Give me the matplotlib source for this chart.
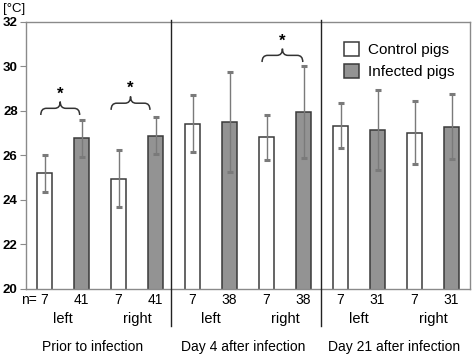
import matplotlib.pyplot as plt
from matplotlib.path import Path
from matplotlib.patches import PathPatch
from matplotlib.transforms import blended_transform_factory

plt.rcParams['font.family'] = ['Liberation Sans', 'DejaVu Sans']

# bar order: (group, side, control/infected)
means = [25.2, 26.78, 24.95, 26.88, 27.42, 27.5, 26.82, 27.96, 27.34, 27.13, 27.02, 27.29]
errs = [0.82, 0.83, 1.28, 0.83, 1.28, 2.26, 1.02, 2.06, 1.02, 1.8, 1.42, 1.46]
n_labels = ['7', '41', '7', '41', '7', '38', '7', '38', '7', '31', '7', '31']
side_labels = ['left', 'right', 'left', 'right', 'left', 'right']
group_labels = ['Prior to infection', 'Day 4 after infection', 'Day 21 after infection']
legend_labels = ['Control pigs', 'Infected pigs']

# significance brackets: (x start, x end, y base)
brackets = [(-0.1, 0.95, 27.82), (1.8, 2.85, 28.05), (5.88, 6.98, 30.2)]

fig = plt.figure(figsize=(4.72, 3.57), dpi=100)
ax = fig.add_axes([0.0551, 0.1905, 0.9407, 0.7479])

x = list(range(len(means)))
colors = ['white' if i % 2 == 0 else '#939393' for i in x]
bars = ax.bar(x, means, width=0.41, color=colors, edgecolor='#3a3a3a', linewidth=1.1, zorder=2)

eb = ax.errorbar(x, means, yerr=errs, fmt='none', ecolor='#7a7a7a', elinewidth=1.0,
                 capsize=2, capthick=2.2, zorder=3)
for cap in eb[1]:
    cap.set_color('black')

ax.set_xlim(-0.5, 11.5)
ax.set_ylim(20, 32)
ax.set_yticks(range(20, 33, 2))
ax.set_xticks([])
for s in ax.spines.values():
    s.set_color('#8a8a8a')
    s.set_linewidth(1.0)
ax.tick_params(axis='y', length=4, color='#8a8a8a', labelsize=9.5, pad=2)
for lbl in ax.get_yticklabels():
    lbl.set_fontweight('bold')
ax.text(-0.052, 1.048, '[°C]', transform=ax.transAxes, fontsize=9.5, ha='left', va='center')

trans = blended_transform_factory(ax.transData, ax.transAxes)

# group separators
for xs in [3.42, 7.47]:
    ax.plot([xs, xs], [-0.139, 1.007], color='#222222', linewidth=1.0,
            transform=trans, clip_on=False, zorder=4)

# n row, side labels, group labels
for i, t in enumerate(n_labels):
    ax.text(i, -0.042, t, transform=trans, ha='center', va='center', fontsize=10)
ax.text(-0.22, -0.042, 'n=', transform=trans, ha='right', va='center', fontsize=10)
for j, t in enumerate(side_labels):
    ax.text(2 * j + 0.5, -0.112, t, transform=trans, ha='center', va='center', fontsize=10.5)
for j, t in enumerate(group_labels):
    ax.text(4 * j + 1.3 + 0.07 * j, -0.218, t, transform=trans, ha='center', va='center',
            fontsize=10)

# curly brackets with stars
for x0, x1, y0 in brackets:
    xm = (x0 + x1) / 2
    y1 = y0 + 0.3
    y2 = y0 + 0.6
    r = 0.15
    verts = [(x0, y0), (x0, y1), (x0 + r, y1), (xm - r, y1), (xm, y1), (xm, y2),
             (xm, y1), (xm + r, y1), (x1 - r, y1), (x1, y1), (x1, y0)]
    codes = [Path.MOVETO, Path.CURVE3, Path.CURVE3, Path.LINETO, Path.CURVE3, Path.CURVE3,
             Path.CURVE3, Path.CURVE3, Path.LINETO, Path.CURVE3, Path.CURVE3]
    ax.add_patch(PathPatch(Path(verts, codes), facecolor='none', edgecolor='#333333',
                           linewidth=1.1, zorder=4))
    ax.text(xm, y2 + 0.35, '*', ha='center', va='center', fontsize=12, fontweight='bold')

# legend
handles = [bars[0], bars[1]]
ax.legend(handles, legend_labels, loc='upper left', bbox_to_anchor=(0.685, 0.975),
          frameon=False, fontsize=11, handlelength=1.0, handleheight=1.0,
          handletextpad=0.55, labelspacing=0.45)

fig.savefig('out.png', dpi=100)
